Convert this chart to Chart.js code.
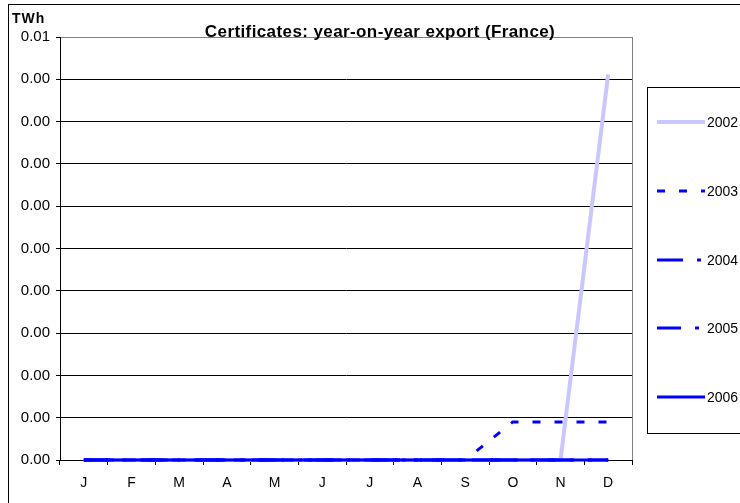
<!DOCTYPE html>
<html>
<head>
<meta charset="utf-8">
<script src="https://cdn.jsdelivr.net/npm/chart.js@4.4.0/dist/chart.umd.min.js"></script>
<style>
  body { margin: 0; background: #fff; }
  canvas { display: block; }
</style>
</head>
<body>
<canvas id="myChart" width="740" height="503"></canvas>
<script>
const months = ["J", "F", "M", "A", "M", "J", "J", "A", "S", "O", "N", "D"];
const seriesNames = ["2002", "2003", "2004", "2005", "2006"];
const values2002 = [0, 0, 0, 0, 0, 0, 0, 0, 0, 0, 0, 0.00456];
const values2003 = [0, 0, 0, 0, 0, 0, 0, 0, 0, 0.00045, 0.00045, 0.00045];
const values2004 = [0, 0, 0, 0, 0, 0, 0, 0, 0, 0, 0, 0];
const values2005 = [0, 0, 0, 0, 0, 0, 0, 0, 0, 0, 0, 0];
const values2006 = [0, 0, 0, 0, 0, 0, 0, 0, 0, 0, 0, 0];
const yMin = 0;
const yMax = 0.005;
const yStep = 0.0005;

const font = "'Liberation Sans', Arial, sans-serif";

const styles = [
  { color: "#c8c8ff", width: 4, dash: [] },
  { color: "#0000ff", width: 3, dash: [8, 14] },
  { color: "#0000ff", width: 3, dash: [26, 14, 4, 14] },
  { color: "#0000ff", width: 3, dash: [24, 14, 4, 14] },
  { color: "#0000ff", width: 3, dash: [] },
];
const allValues = [values2002, values2003, values2004, values2005, values2006];

const datasets = seriesNames.map((name, i) => ({
  label: name,
  data: allValues[i],
  borderColor: styles[i].color,
  borderWidth: styles[i].width,
  borderDash: styles[i].dash,
  borderCapStyle: "butt",
  pointRadius: 0,
  fill: false,
  tension: 0,
  clip: 6,
  order: seriesNames.length - i,
}));

// title, frame and legend drawn by hand
const decor = {
  id: "decor",
  beforeDraw(chart) {
    const ctx = chart.ctx;
    ctx.save();
    ctx.fillStyle = "#fff";
    ctx.fillRect(0, 0, chart.width, chart.height);
    ctx.restore();
  },
  afterDraw(chart) {
    const ctx = chart.ctx;
    const a = chart.chartArea;
    ctx.save();
    // right border of the plot
    ctx.strokeStyle = "#808080";
    ctx.lineWidth = 1;
    ctx.beginPath();
    ctx.moveTo(Math.round(a.right) + 0.5, a.top);
    ctx.lineTo(Math.round(a.right) + 0.5, a.bottom);
    ctx.stroke();
    // outer frame
    ctx.strokeStyle = "#000";
    ctx.strokeRect(8.5, 4.5, 800, 600);
    // texts
    ctx.fillStyle = "#000";
    ctx.textBaseline = "alphabetic";
    ctx.font = "bold 17px " + font;
    ctx.letterSpacing = "0.4px";
    ctx.textAlign = "center";
    ctx.fillText("Certificates: year-on-year export (France)", 380, 37);
    ctx.textAlign = "left";
    ctx.font = "bold 14px " + font;
    ctx.letterSpacing = "1px";
    ctx.fillText("TWh", 12, 23);
    ctx.letterSpacing = "0px";
    // legend
    ctx.strokeStyle = "#000";
    ctx.strokeRect(647.5, 87.5, 120, 346);
    const rows = [122, 191, 260, 328, 397];
    ctx.font = "14px " + font;
    ctx.textBaseline = "middle";
    seriesNames.forEach((name, i) => {
      ctx.save();
      ctx.strokeStyle = styles[i].color;
      ctx.lineWidth = styles[i].width;
      ctx.setLineDash(styles[i].dash);
      ctx.beginPath();
      ctx.moveTo(657, rows[i]);
      ctx.lineTo(705, rows[i]);
      ctx.stroke();
      ctx.restore();
      ctx.fillText(name, 707, rows[i] + 1);
    });
    ctx.restore();
  },
};

const ctx = document.getElementById("myChart").getContext("2d");
const exportChart = new Chart(ctx, {
  type: "line",
  data: { labels: months, datasets: datasets },
  plugins: [decor],
  options: {
    responsive: false,
    animation: false,
    layout: { padding: { top: 37, right: 108, left: 0, bottom: 0 } },
    plugins: {
      legend: { display: false },
      title: { display: false },
      tooltip: { enabled: false },
    },
    scales: {
      x: {
        offset: true,
        afterFit: (s) => { s.height = 43; },
        grid: {
          offset: true,
          drawOnChartArea: false,
          drawTicks: true,
          tickLength: 5,
          tickColor: "#000",
        },
        border: { color: "#000", width: 1 },
        ticks: {
          color: "#000",
          font: { family: font, size: 14 },
          padding: 10,
          autoSkip: false,
          maxRotation: 0,
        },
      },
      y: {
        min: yMin,
        max: yMax,
        afterFit: (s) => { s.width = 60; },
        grid: {
          color: (c) => (c.tick && c.tick.value >= yMax - 1e-9 ? "#808080" : "#000"),
          tickLength: 4,
          tickColor: "#000",
        },
        border: { color: "#000", width: 1 },
        ticks: {
          stepSize: yStep,
          color: "#000",
          font: { family: font, size: 15 },
          padding: 6,
          callback: (v) => Number(Number(v).toPrecision(6)).toFixed(2),
        },
      },
    },
  },
});
</script>
</body>
</html>
